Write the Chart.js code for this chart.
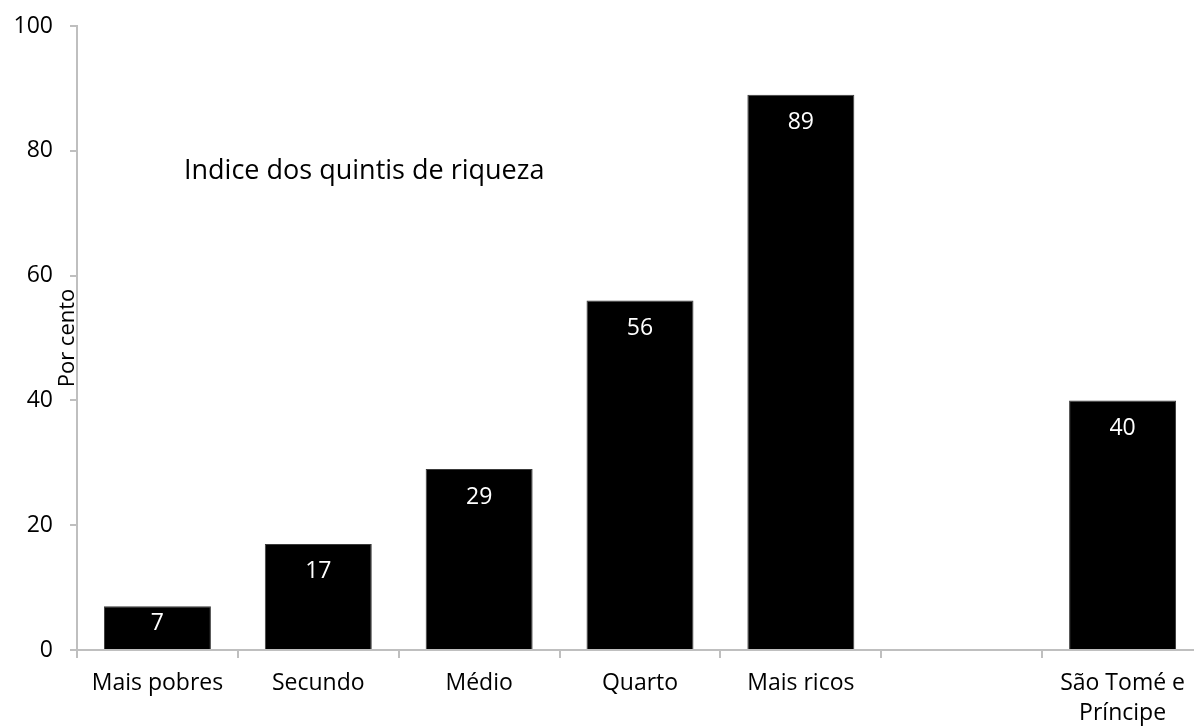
<!DOCTYPE html>
<html lang="pt">
<head>
    <meta charset="UTF-8">
    <title>Indice dos quintis de riqueza</title>
    <style>
        html, body {
            margin: 0;
            padding: 0;
            background: #ffffff;
            overflow: hidden;
        }
        #wrap {
            width: 1210px;
            height: 740px;
        }
    </style>
</head>
<body>
    <div id="wrap">
        <canvas id="quintis" width="1210" height="740"></canvas>
    </div>
    <script src="https://cdn.jsdelivr.net/npm/chart.js"></script>
    <script>
        const categories = ['Mais pobres', 'Secundo', 'Médio', 'Quarto', 'Mais ricos', '', ['São Tomé e', 'Príncipe']];
        const values = [7, 17, 29, 56, 89, null, 40];
        const yTicks = [0, 20, 40, 60, 80, 100];

        const FONT = "'Open Sans', sans-serif";
        const AXIS_GREY = '#bfbfbf';

        // white value labels just inside the top of each bar
        const barLabels = {
            id: 'barLabels',
            afterDatasetsDraw(chart) {
                const ctx = chart.ctx;
                const meta = chart.getDatasetMeta(0);
                ctx.save();
                ctx.fillStyle = '#ffffff';
                ctx.font = '23px ' + FONT;
                ctx.textAlign = 'center';
                ctx.textBaseline = 'middle';
                meta.data.forEach((bar, i) => {
                    const v = values[i];
                    if (v === null) return;
                    const y = Math.min(bar.y + 28, (bar.y + bar.base) / 2 - 4);
                    ctx.fillText(String(v), bar.x, y);
                });
                ctx.restore();
            }
        };

        // in-plot caption and the y axis name drawn across the axis line
        const captions = {
            id: 'captions',
            afterDraw(chart) {
                const ctx = chart.ctx;
                const area = chart.chartArea;
                ctx.save();
                ctx.fillStyle = '#000000';
                ctx.font = '27px ' + FONT;
                ctx.textAlign = 'left';
                ctx.textBaseline = 'middle';
                ctx.fillText('Indice dos quintis de riqueza', area.left + 107, area.top + 145);

                ctx.translate(area.left - 9, (area.top + area.bottom) / 2);
                ctx.rotate(-Math.PI / 2);
                ctx.font = '22px ' + FONT;
                ctx.textAlign = 'center';
                ctx.fillText('Por cento', 0, 0);
                ctx.restore();
            }
        };

        new Chart(document.getElementById('quintis').getContext('2d'), {
            type: 'bar',
            data: {
                labels: categories,
                datasets: [{
                    data: values,
                    backgroundColor: '#000000',
                    borderColor: '#3a3a3a',
                    borderWidth: 1,
                    barPercentage: 0.665,
                    categoryPercentage: 1.0
                }]
            },
            options: {
                responsive: false,
                animation: false,
                devicePixelRatio: 1,
                layout: {
                    padding: { top: 26, right: 7, left: 0, bottom: 0 }
                },
                plugins: {
                    legend: { display: false },
                    tooltip: { enabled: false }
                },
                scales: {
                    x: {
                        afterFit(scale) { scale.height = 90; },
                        grid: {
                            drawOnChartArea: false,
                            drawTicks: true,
                            tickLength: 8,
                            color: AXIS_GREY,
                            lineWidth: 2
                        },
                        border: { color: AXIS_GREY, width: 2 },
                        ticks: {
                            color: '#000000',
                            font: { family: FONT, size: 23, lineHeight: 1.3 },
                            padding: 11,
                            maxRotation: 0,
                            autoSkip: false
                        }
                    },
                    y: {
                        min: 0,
                        max: 100,
                        afterFit(scale) {
                            scale.width = 77;
                            // keep the label padding from pushing the plot down
                            scale.paddingTop = 0;
                            scale.paddingBottom = 0;
                        },
                        afterBuildTicks(scale) {
                            scale.ticks = yTicks.map(v => ({ value: v }));
                        },
                        grid: {
                            drawOnChartArea: false,
                            drawTicks: true,
                            tickLength: 7,
                            color: AXIS_GREY,
                            lineWidth: 2
                        },
                        border: { color: AXIS_GREY, width: 2 },
                        ticks: {
                            color: '#000000',
                            font: { family: FONT, size: 23 },
                            padding: 17
                        }
                    }
                }
            },
            plugins: [barLabels, captions]
        });
    </script>
</body>
</html>
